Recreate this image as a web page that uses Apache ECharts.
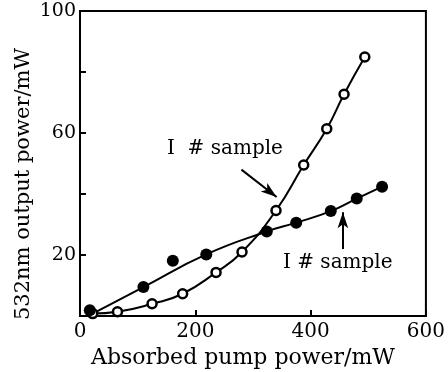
<!DOCTYPE html>
<html>
<head>
<meta charset="utf-8">
<script src="https://cdn.jsdelivr.net/npm/echarts@6/dist/echarts.min.js"></script>
<style>
html,body{margin:0;padding:0;background:#fff;}
#main{width:448px;height:372px;}
</style>
</head>
<body>
<div id="main"></div>
<script>
// absorbed pump power (mW), 532nm output power (mW)
var sample2Pts = [[22,0.8],[65,1.4],[125,4.0],[178,7.3],[236,14.3],[281,21.0],[340,34.6],[388,49.5],[428,61.4],[458,72.7],[494,84.9]];
var sample1Pts = [[17,1.9],[110,9.5],[161,18.1],[219,20.2],[324,27.7],[375,30.6],[435,34.4],[480,38.5],[524,42.4]];
// hand-drawn fit through sample I (skips the stray point at 161)
var sample1Fit = [[22,0.8],[110,9.5],[219,20.2],[324,27.7],[375,30.6],[435,34.4],[480,38.5],[524,42.4]];
var xTicks = [0, 200, 400, 600];
var yTicks = [20, 60, 100];

var serif = 'DejaVu Serif';
var chart = echarts.init(document.getElementById('main'));

var option = {
    backgroundColor:'#fff',
    animation:false,
    grid:{left:80,right:22,top:11,bottom:56,show:true,borderColor:'#000',borderWidth:2,backgroundColor:'transparent'},
    xAxis:{
        type:'value',min:0,max:600,interval:200,
        axisLine:{lineStyle:{color:'#000',width:2}},
        axisTick:{inside:true,length:6,lineStyle:{width:2}},
        axisLabel:{fontFamily:serif,fontSize:20,color:'#000',margin:6,
            formatter:function(v){return xTicks.indexOf(v)>=0?String(v):'';}},
        splitLine:{show:false}
    },
    yAxis:{
        type:'value',min:0,max:100,interval:20,
        axisLine:{lineStyle:{color:'#000',width:2}},
        axisTick:{inside:true,length:6,lineStyle:{width:2}},
        axisLabel:{fontFamily:serif,fontSize:19,color:'#000',margin:4,
            formatter:function(v){return yTicks.indexOf(v)>=0?String(v):'';}},
        splitLine:{show:false}
    },
    series:[
        {
            type:'line',data:sample1Fit,smooth:true,showSymbol:false,
            lineStyle:{color:'#000',width:2},z:2,
            markLine:{
                silent:true,symbol:['none','arrow'],symbolSize:[8,16],
                lineStyle:{color:'#000',width:2,type:'solid'},label:{show:false},
                data:[
                    [{coord:[456,22]},{coord:[456,34]}],
                    [{coord:[280,48]},{coord:[341,39]}]
                ]
            }
        },
        {
            type:'line',data:sample2Pts,smooth:true,symbol:'circle',symbolSize:9,
            lineStyle:{color:'#000',width:2},
            itemStyle:{color:'#fff',borderColor:'#000',borderWidth:2.5},z:3
        },
        {
            type:'scatter',data:sample1Pts,symbol:'circle',symbolSize:12,
            itemStyle:{color:'#000',opacity:1},z:4
        }
    ],
    graphic:[
        {type:'text',left:167,top:139,style:{text:'I  # sample',fontFamily:serif,fontSize:20,fill:'#000'}},
        {type:'text',left:283,top:253,style:{text:'I # sample',fontFamily:serif,fontSize:20,fill:'#000'}},
        {type:'text',x:243,y:358,style:{text:'Absorbed pump power/mW',fontFamily:serif,fontSize:22,fill:'#000',align:'center',verticalAlign:'middle'}},
        {type:'text',x:24,y:184,rotation:Math.PI/2,style:{text:'532nm output power/mW',fontFamily:serif,fontSize:21,fill:'#000',align:'center',verticalAlign:'middle'}}
    ]
};
chart.setOption(option);
</script>
</body>
</html>
